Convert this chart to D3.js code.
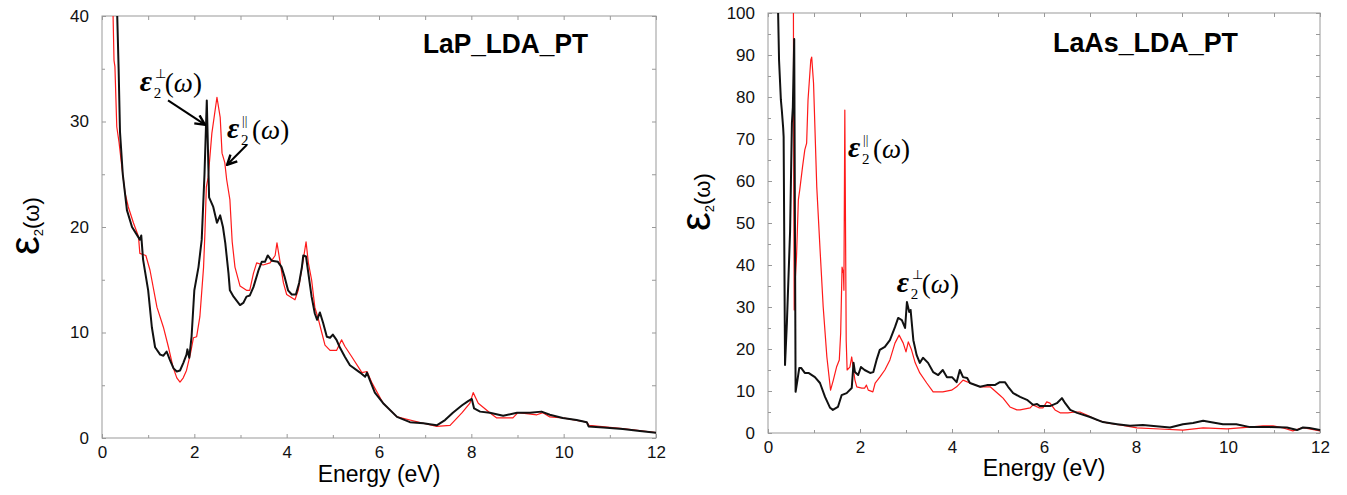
<!DOCTYPE html>
<html>
<head>
<meta charset="utf-8">
<script src="https://cdn.jsdelivr.net/npm/d3@7"></script>
<style>
 body { margin: 0; background: #fff; }
 svg { display: block; }
 .tick text { font-family: "Liberation Sans", Arial, sans-serif; font-size: 17px; fill: #111; }
 .tick line { stroke: #999; }
 .domain { display: none; }
</style>
</head>
<body>
<svg id="chart" width="1347" height="495"></svg>
<script>
// LaP, epsilon2 perpendicular (black) and parallel (red): [energy eV, value]
var lapPerp = [[0.30,46],[0.33,40],[0.36,35],[0.39,29],[0.45,25],[0.54,21.6],[0.65,20.0],[0.75,19.3],[0.82,18.8],[0.85,19.2],
 [0.89,16.9],[1.0,14.0],[1.08,10.5],[1.15,8.6],[1.26,7.9],[1.33,7.8],[1.4,8.2],[1.47,7.4],[1.55,6.6],[1.62,6.3],
 [1.69,6.4],[1.76,7.1],[1.83,7.9],[1.85,8.4],[1.89,7.6],[1.94,9.6],[2.0,14],[2.09,16.2],[2.16,18.8],[2.22,25],
 [2.27,32],[2.32,22.8],[2.41,21.9],[2.49,20.4],[2.56,21.1],[2.62,20.0],[2.67,18.5],[2.74,15.6],[2.77,14],[2.85,13.4],
 [2.99,12.6],[3.06,12.8],[3.13,13.4],[3.2,13.5],[3.28,14.3],[3.39,15.9],[3.46,16.7],[3.53,16.7],[3.59,17.3],[3.68,16.8],
 [3.81,16.7],[3.89,16.2],[3.96,15.2],[4.03,14.0],[4.11,13.6],[4.2,13.6],[4.27,14.7],[4.33,16.2],[4.36,17.3],[4.42,17.2],
 [4.47,15.6],[4.54,13.4],[4.61,11.8],[4.66,11.2],[4.72,11.9],[4.79,10.9],[4.87,9.6],[4.94,9.5],[5.0,9.8],[5.08,9.3],
 [5.15,8.6],[5.26,7.7],[5.37,6.9],[5.59,6.2],[5.7,5.8],[5.74,6.2],[5.8,5.5],[5.91,4.3],[6.09,3.3],[6.39,2.0],
 [6.67,1.5],[6.96,1.4],[7.1,1.3],[7.25,1.2],[7.43,1.7],[7.6,2.4],[7.8,3.1],[7.93,3.5],[8.01,3.7],[8.06,2.8],
 [8.19,2.5],[8.4,2.4],[8.69,2.1],[8.99,2.4],[9.27,2.4],[9.52,2.5],[9.7,2.2],[9.98,1.9],[10.28,1.7],[10.5,1.5],
 [10.54,1.1],[10.86,1.0],[11.28,0.85],[11.65,0.66],[12.0,0.5]];

var lapPar = [[0.18,48],[0.24,40],[0.26,35.8],[0.28,35.2],[0.32,29.5],[0.37,28],[0.43,25.7],[0.5,23.2],[0.57,21.9],[0.68,20.4],
 [0.79,19.1],[0.82,17.5],[0.95,17.3],[1.04,15.9],[1.19,12.4],[1.33,10.5],[1.44,8.6],[1.54,6.7],[1.62,5.7],[1.69,5.3],
 [1.76,5.7],[1.83,6.4],[1.92,8.1],[1.98,9.5],[2.05,9.6],[2.12,11.5],[2.2,16.2],[2.23,19.5],[2.26,23.8],[2.3,24.7],
 [2.38,28.9],[2.49,32.3],[2.56,30.4],[2.6,27],[2.66,26.1],[2.7,24.5],[2.77,22.6],[2.82,18.6],[2.88,16.2],[2.99,14.4],
 [3.13,14],[3.2,14],[3.28,15.6],[3.35,16.6],[3.49,16.4],[3.64,16.6],[3.75,17.3],[3.79,18.5],[3.86,16.6],[3.93,14.7],
 [4.0,13.6],[4.18,13.1],[4.25,14],[4.36,16.9],[4.42,18.6],[4.47,16.6],[4.54,15],[4.61,12.4],[4.69,11.2],[4.76,10],
 [4.83,8.8],[4.94,8.3],[5.08,8.3],[5.19,9.3],[5.26,8.7],[5.41,7.7],[5.63,6.2],[5.74,6.3],[5.85,5.2],[6.09,3.3],
 [6.39,2.0],[6.96,1.4],[7.25,1.1],[7.54,1.2],[7.8,2.4],[7.97,3.3],[8.04,4.3],[8.15,3.3],[8.4,2.4],[8.55,1.9],
 [8.9,1.9],[9.01,2.4],[9.42,2.2],[9.55,2.4],[9.7,2.0],[9.98,1.9],[10.5,1.5],[10.55,1.2],[11.28,0.9],[12,0.5]];

// LaAs
var laasPerp = [[0.18,115],[0.22,100],[0.24,88.8],[0.28,79.3],[0.3,76.9],[0.33,72.6],[0.34,70.5],[0.37,16.2],[0.41,26],[0.48,48],
 [0.52,73.8],[0.54,77.6],[0.57,93.8],[0.6,9.8],[0.64,12.6],[0.68,15.5],[0.72,15.5],[0.8,14.3],[0.88,14.3],[1.02,13.3],
 [1.13,11.9],[1.24,8.6],[1.35,6.0],[1.41,5.5],[1.52,6.2],[1.6,9.0],[1.71,9.5],[1.82,10.7],[1.86,16.7],[1.89,14.5],
 [1.96,13.8],[2.02,15.7],[2.1,15],[2.22,14.3],[2.29,14.5],[2.36,17.4],[2.43,19.8],[2.54,20.5],[2.65,22.1],[2.76,25.2],
 [2.83,27.4],[2.91,26.9],[2.98,25],[3.02,31.2],[3.07,28.8],[3.1,29.3],[3.16,22.1],[3.23,18.6],[3.3,16.7],[3.37,17.9],
 [3.48,16.7],[3.59,14.5],[3.7,13.8],[3.8,15],[3.89,13.3],[4.0,13.3],[4.1,12.1],[4.17,15],[4.24,13.3],[4.33,13.1],
 [4.39,11.9],[4.61,11],[4.76,11.4],[4.93,11.4],[5.04,12.1],[5.15,12.1],[5.22,11],[5.33,9.5],[5.48,8.6],[5.63,7.9],
 [5.76,6.7],[5.85,6.9],[5.91,6.4],[6.13,6.4],[6.28,7.1],[6.39,8.3],[6.46,7.1],[6.57,5.5],[6.72,4.8],[7.0,3.8],
 [7.28,2.6],[7.59,2.1],[7.87,1.7],[8.15,1.9],[8.44,1.6],[8.74,1.3],[9.02,2.1],[9.24,2.4],[9.46,2.9],[9.61,2.6],
 [9.89,2.1],[10.18,2.1],[10.48,1.4],[10.91,1.4],[11.28,1.3],[11.5,0.7],[11.63,1.3],[11.77,1.2],[12,0.7]];

var laasPar = [[0.55,115],[0.56,60],[0.57,29.3],[0.59,36],[0.62,42],[0.66,55.5],[0.69,57.9],[0.75,63.3],[0.8,67.4],[0.84,69],
 [0.87,79.3],[0.93,88.8],[0.95,89.5],[0.99,83.3],[1.06,58.6],[1.13,44],[1.2,30],[1.28,18.1],[1.36,10.2],[1.42,12.6],
 [1.49,15.7],[1.55,17.4],[1.58,23.8],[1.61,39.5],[1.64,38],[1.65,34],[1.67,76.9],[1.7,22],[1.72,15],[1.78,15.7],
 [1.82,18.1],[1.85,15.7],[1.89,12.6],[1.93,11],[2.04,10.7],[2.1,10.7],[2.14,11.4],[2.18,10.2],[2.28,9.8],[2.33,11.9],
 [2.43,13.3],[2.54,15],[2.65,17.4],[2.76,21.4],[2.85,23.3],[2.94,21.4],[3.0,19.3],[3.05,21.7],[3.12,19.8],[3.2,16.7],
 [3.3,14.3],[3.45,11.9],[3.59,9.8],[3.8,9.8],[3.99,10.2],[4.1,11],[4.24,12.6],[4.39,11.9],[4.61,11],[4.83,11],
 [5.04,9],[5.11,8.3],[5.26,6.2],[5.41,5.5],[5.48,5.5],[5.7,6],[5.76,6.7],[5.89,6],[5.98,6],[6.06,7.4],
 [6.13,7.1],[6.24,5.5],[6.35,4.8],[6.52,4.8],[6.67,5.0],[6.78,5.0],[6.93,4.3],[7.15,3.1],[7.37,2.4],[7.65,1.9],
 [8.02,1.2],[8.52,0.95],[9.02,0.7],[9.46,1.2],[9.98,1.0],[10.33,1.3],[10.76,1.7],[10.98,1.7],[11.2,1.2],[11.41,0.5],
 [11.63,1.3],[12,0.5]];

var xTicks = [0, 2, 4, 6, 8, 10, 12];
var xMinor = [1, 3, 5, 7, 9, 11];
var lapYTicks = [0, 10, 20, 30, 40];
var lapYMinor = [5, 15, 25, 35];
var laasYTicks = [0, 10, 20, 30, 40, 50, 60, 70, 80, 90, 100];
var laasYMinor = [5, 15, 25, 35, 45, 55, 65, 75, 85, 95];

var svg = d3.select("#chart");
svg.append("rect").attr("width", 1347).attr("height", 495).attr("fill", "#fff");

var defs = svg.append("defs");
defs.append("marker")
 .attr("id", "arrow")
 .attr("viewBox", "0 0 10 10")
 .attr("refX", 9).attr("refY", 5)
 .attr("markerWidth", 6).attr("markerHeight", 6)
 .attr("orient", "auto")
 .append("path")
 .attr("d", "M1,1 L9,5 L1,9")
 .attr("fill", "none")
 .attr("stroke", "#000")
 .attr("stroke-width", 2);

function panel(opt) {
 var x = d3.scaleLinear().domain([0, 12]).range([opt.left, opt.right]);
 var y = d3.scaleLinear().domain([0, opt.ymax]).range([opt.bottom, opt.top]);
 var g = svg.append("g");

 defs.append("clipPath").attr("id", opt.id)
  .append("rect")
  .attr("x", opt.left).attr("y", opt.top)
  .attr("width", opt.right - opt.left).attr("height", opt.bottom - opt.top);

 // frame
 g.append("rect")
  .attr("x", opt.left).attr("y", opt.top)
  .attr("width", opt.right - opt.left).attr("height", opt.bottom - opt.top)
  .attr("fill", "none").attr("stroke", "#999").attr("stroke-width", 1);

 // ticks, pointing inward on all four sides
 g.append("g").attr("transform", "translate(0," + opt.bottom + ")")
  .call(d3.axisBottom(x).tickValues(xTicks).tickSize(-4).tickPadding(8).tickFormat(d3.format("d")));
 g.append("g").attr("transform", "translate(0," + opt.bottom + ")")
  .call(d3.axisBottom(x).tickValues(xMinor).tickSize(-3).tickFormat(""));
 g.append("g").attr("transform", "translate(0," + opt.top + ")")
  .call(d3.axisTop(x).tickValues(xTicks.concat(xMinor)).tickSize(-4).tickFormat(""));
 g.append("g").attr("transform", "translate(" + opt.left + ",0)")
  .call(d3.axisLeft(y).tickValues(opt.yTicks).tickSize(-4).tickPadding(13).tickFormat(d3.format("d")));
 g.append("g").attr("transform", "translate(" + opt.left + ",0)")
  .call(d3.axisLeft(y).tickValues(opt.yMinor).tickSize(-3).tickFormat(""));
 g.append("g").attr("transform", "translate(" + opt.right + ",0)")
  .call(d3.axisRight(y).tickValues(opt.yTicks.concat(opt.yMinor)).tickSize(-4).tickFormat(""));

 var line = d3.line()
  .x(function(d) { return x(d[0]); })
  .y(function(d) { return y(d[1]); });

 var curves = g.append("g").attr("clip-path", "url(#" + opt.id + ")");
 curves.append("path").datum(opt.par)
  .attr("d", line).attr("fill", "none")
  .attr("stroke", "#ff1a1a").attr("stroke-width", 1.2).attr("stroke-linejoin", "round");
 curves.append("path").datum(opt.perp)
  .attr("d", line).attr("fill", "none")
  .attr("stroke", "#111").attr("stroke-width", 2).attr("stroke-linejoin", "round");

 // x label
 g.append("text")
  .attr("x", (opt.left + opt.right) / 2).attr("y", opt.xLabelY)
  .attr("text-anchor", "middle")
  .style("font-family", "Liberation Sans, Arial, sans-serif")
  .style("font-size", "23px")
  .text("Energy (eV)");

 // y label, rotated
 var yl = g.append("text")
  .attr("transform", "translate(" + opt.yLabelX + "," + opt.yLabelY + ") rotate(-90)")
  .style("font-family", "Liberation Sans, Arial, sans-serif");
 yl.append("tspan").style("font-size", "42px").text("ε");
 yl.append("tspan").style("font-size", "13px").attr("dy", 4).text("2");
 yl.append("tspan").style("font-size", "22px").attr("dy", -4).text("(ω)");

 // title
 g.append("text")
  .attr("x", opt.titleX).attr("y", opt.titleY)
  .attr("textLength", opt.titleW).attr("lengthAdjust", "spacingAndGlyphs")
  .style("font-family", "Liberation Sans, Arial, sans-serif")
  .style("font-size", "28px").style("font-weight", "bold")
  .text(opt.title);

 return { g: g, x: x, y: y };
}

function epsLabel(p, ex, ey, sup) {
 var px = p.x(ex), py = p.y(ey);
 var g = p.g.append("g").style("font-family", "Liberation Serif, Times New Roman, serif");
 g.append("text").attr("x", px).attr("y", py)
  .style("font-size", "30px").style("font-style", "italic").style("font-weight", "bold").text("ε");
 g.append("text").attr("x", px + 14).attr("y", py + 7)
  .style("font-size", "15px").text("2");
 g.append("text").attr("x", px + 15).attr("y", py - 13)
  .style("font-size", "13px").text(sup);
 var t = g.append("text").attr("x", px + 25).attr("y", py + 1).style("font-size", "27px");
 t.append("tspan").text("(");
 t.append("tspan").style("font-style", "italic").text("ω");
 t.append("tspan").text(")");
}

function arrow(p, x1, y1, x2, y2) {
 p.g.append("line")
  .attr("x1", p.x(x1)).attr("y1", p.y(y1))
  .attr("x2", p.x(x2)).attr("y2", p.y(y2))
  .attr("stroke", "#000").attr("stroke-width", 2)
  .attr("marker-end", "url(#arrow)");
}

var lap = panel({
 id: "clipLaP", left: 102, right: 656, top: 16, bottom: 438, ymax: 40,
 yTicks: lapYTicks, yMinor: lapYMinor, perp: lapPerp, par: lapPar,
 xLabelY: 482, yLabelX: 39, yLabelY: 255,
 title: "LaP_LDA_PT", titleX: 423, titleY: 53, titleW: 165
});
epsLabel(lap, 0.82, 32.9, "\u22A5");
arrow(lap, 1.43, 32.0, 2.23, 29.7);
epsLabel(lap, 2.71, 28.4, "||");
arrow(lap, 3.14, 27.8, 2.71, 25.9);

var laas = panel({
 id: "clipLaAs", left: 768, right: 1320, top: 13, bottom: 433, ymax: 100,
 yTicks: laasYTicks, yMinor: laasYMinor, perp: laasPerp, par: laasPar,
 xLabelY: 476, yLabelX: 710, yLabelY: 231,
 title: "LaAs_LDA_PT", titleX: 1053, titleY: 52, titleW: 185
});
epsLabel(laas, 1.74, 65.7, "||");
epsLabel(laas, 2.8, 33.6, "\u22A5");
</script>
</body>
</html>
